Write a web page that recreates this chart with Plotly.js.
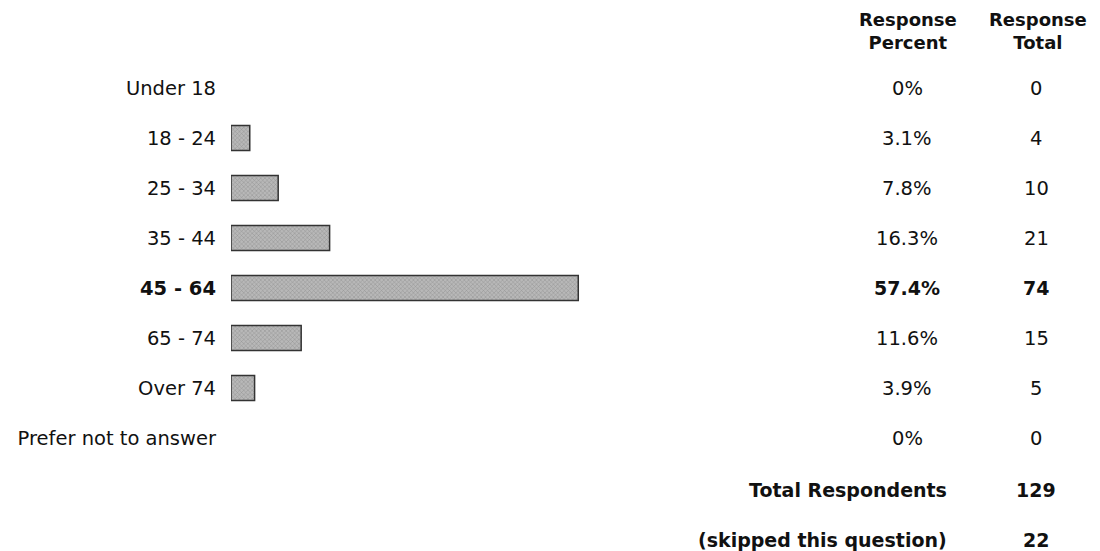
<!DOCTYPE html>
<html>
<head>
<meta charset="utf-8">
<script src="https://cdn.plot.ly/plotly-3.0.1.min.js"></script>
<style>html,body{margin:0;padding:0;background:#fff;}#chart{width:1100px;height:551px;}</style>
</head>
<body>
<div id="chart"></div>
<script>
const categories = ["Under 18", "18 - 24", "25 - 34", "35 - 44", "45 - 64", "65 - 74", "Over 74", "Prefer not to answer"];
const percents = [0, 3.1, 7.8, 16.3, 57.4, 11.6, 3.9, 0];
const totals = [0, 4, 10, 21, 74, 15, 5, 0];
const headerPercent = "Response<br>Percent";
const headerTotal = "Response<br>Total";
const summaryLabels = ["Total Respondents", "(skipped this question)"];
const summaryValues = [129, 22];

const W = 1100, H = 551, L = 231;
const FONT = "DejaVu Sans, Verdana, sans-serif";
const FS = 19.5;
const FSB = 19;
const FSH = 18;
const px = p => (p - L) / (W - L);
const py = p => 1 - p / H;

const maxVal = Math.max(...percents);
const isMax = percents.map(v => v === maxVal);
const tickText = categories.map((c, i) => isMax[i] ? "<b>" + c + "</b>" : c);

const fmtPct = v => (v === 0 ? "0" : v.toFixed(1)) + "%";

const annotations = [];
categories.forEach((c, i) => {
  const b = isMax[i];
  annotations.push({xref: "paper", yref: "y", x: px(907), y: c, xanchor: "center", yanchor: "middle",
    text: b ? "<b>" + fmtPct(percents[i]) + "</b>" : fmtPct(percents[i]), showarrow: false,
    font: {family: FONT, size: b ? FSB : FS, color: "#111"}});
  annotations.push({xref: "paper", yref: "y", x: px(1036), y: c, xanchor: "center", yanchor: "middle",
    text: b ? "<b>" + totals[i] + "</b>" : String(totals[i]), showarrow: false,
    font: {family: FONT, size: b ? FSB : FS, color: "#111"}});
});
annotations.push({xref: "paper", yref: "paper", x: px(908), y: py(31), xanchor: "center", yanchor: "middle",
  text: "<b>" + headerPercent + "</b>", showarrow: false, font: {family: FONT, size: FSH, color: "#111"}});
annotations.push({xref: "paper", yref: "paper", x: px(1038), y: py(31), xanchor: "center", yanchor: "middle",
  text: "<b>" + headerTotal + "</b>", showarrow: false, font: {family: FONT, size: FSH, color: "#111"}});
const sumY = [490, 540];
summaryLabels.forEach((s, i) => {
  annotations.push({xref: "paper", yref: "paper", x: px(949), y: py(sumY[i]), xanchor: "right", yanchor: "middle",
    text: "<b>" + s + "</b>", showarrow: false, font: {family: FONT, size: FSB, color: "#111"}});
  annotations.push({xref: "paper", yref: "paper", x: px(1036), y: py(sumY[i]), xanchor: "center", yanchor: "middle",
    text: "<b>" + summaryValues[i] + "</b>", showarrow: false, font: {family: FONT, size: FSB, color: "#111"}});
});

const trace = {
  type: "bar", orientation: "h", y: categories, x: percents, width: 0.5,
  marker: {
    color: "#a8a8a8",
    line: {color: "#333", width: percents.map(v => v > 0 ? 1.5 : 0)},
    pattern: {shape: "x", fgcolor: "#8a8a8a", bgcolor: "#b8b8b8", size: 3, solidity: 0.25}
  },
  hoverinfo: "none"
};

const pxPerPct = 6.05;
const layout = {
  width: W, height: H,
  margin: {l: L, r: 0, t: 0, b: 0, autoexpand: false},
  paper_bgcolor: "#fff", plot_bgcolor: "#fff",
  showlegend: false,
  font: {family: FONT, size: FS, color: "#111"},
  xaxis: {range: [0, (W - L) / pxPerPct], showgrid: false, zeroline: false, showticklabels: false, showline: false, fixedrange: true},
  yaxis: {type: "category", range: [(H - 88) / 50, -88 / 50], tickmode: "array", tickvals: categories, ticktext: tickText,
    ticks: "", ticklabelstandoff: 14, showgrid: false, zeroline: false, showline: false, automargin: false,
    tickfont: {family: FONT, size: FS, color: "#111"}},
  annotations: annotations
};

Plotly.newPlot("chart", [trace], layout, {displayModeBar: false, staticPlot: true});
</script>
</body>
</html>
